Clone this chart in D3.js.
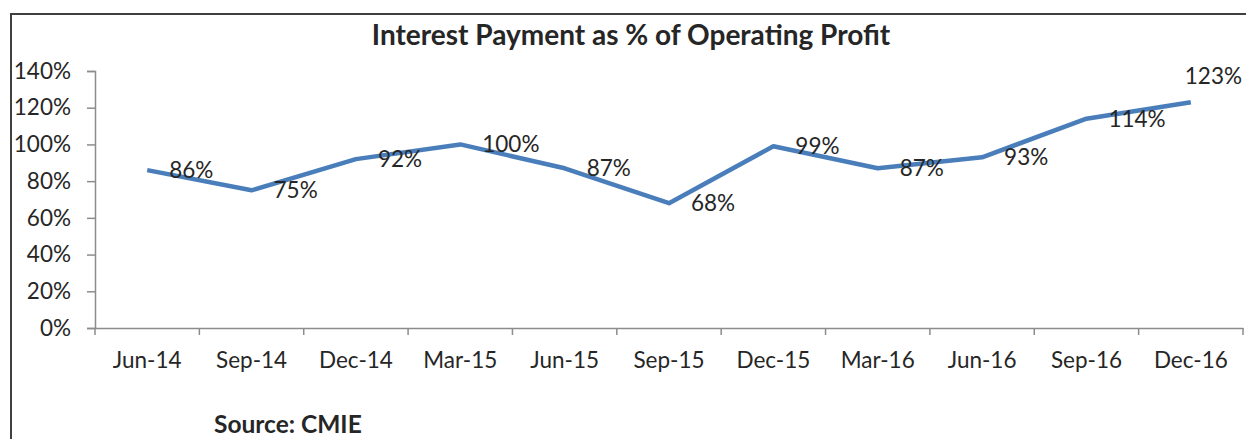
<!DOCTYPE html>
<html lang="en">
    <head>
        <meta charset="UTF-8" />
        <title>Interest Payment as % of Operating Profit</title>
        <style>
            body { margin: 0; background: #fff; }
            svg { display: block; font-family: Lato, "Noto Sans", sans-serif; }
        </style>
    </head>
    <body>
        <script src="https://cdn.jsdelivr.net/npm/d3@7"></script>
        <div id="app"></div>
        <script>
        // DATA
            const quarters = ["Jun-14", "Sep-14", "Dec-14", "Mar-15", "Jun-15", "Sep-15",
                              "Dec-15", "Mar-16", "Jun-16", "Sep-16", "Dec-16"];
            const interestPct = [86, 75, 92, 100, 87, 68, 99, 87, 93, 114, 123];
            const yTicks = [0, 20, 40, 60, 80, 100, 120, 140];

            const w = 1246;
            const h = 439;
            const padLeft = 95, padRight = 1243, padTop = 71, padBottom = 328;
            const textColor = "#262626";
            const axisColor = "#8c8c8c";

            const svg = d3.select("#app")
                .append("svg")
                .attr("width", w)
                .attr("height", h);

        // FRAME
            svg.append("path")
                .attr("d", "M11," + (h + 2) + "V14H" + (w + 2))
                .attr("fill", "none")
                .attr("stroke", "#404040")
                .attr("stroke-width", 2);

        // TITLE
            svg.append("text")
                .attr("x", 631)
                .attr("y", 45)
                .attr("text-anchor", "middle")
                .attr("font-size", 28)
                .attr("font-weight", "bold")
                .attr("fill", textColor)
                .text("Interest Payment as % of Operating Profit");

        // SCALES
            const xScale = d3.scaleBand()
                .domain(quarters)
                .range([padLeft, padRight]);

            const yScale = d3.scaleLinear()
                .domain([0, 140])
                .range([padBottom, padTop]);

        // AXES
            const yAxis = d3.axisLeft(yScale)
                .tickValues(yTicks)
                .tickSize(8)
                .tickPadding(16)
                .tickFormat(d => d + "%");

            const gy = svg.append("g")
                .attr("transform", "translate(" + padLeft + ",0)")
                .call(yAxis);

            const xAxis = d3.axisBottom(xScale)
                .tickSize(0)
                .tickPadding(24);

            const gx = svg.append("g")
                .attr("transform", "translate(0," + padBottom + ")")
                .call(xAxis);

            // ticks sit on category boundaries, not centres
            const bounds = quarters.map(q => xScale(q)).concat([xScale.range()[1]]);
            gx.selectAll(".bound")
                .data(bounds)
                .enter()
                .append("line")
                .attr("class", "bound")
                .attr("x1", d => d)
                .attr("x2", d => d)
                .attr("y1", 0)
                .attr("y2", 7);

            [gx, gy].forEach(g => {
                g.select(".domain").attr("stroke", axisColor).attr("stroke-width", 1.5);
                g.selectAll("line").attr("stroke", axisColor).attr("stroke-width", 1.5);
                g.selectAll("text")
                    .attr("font-size", 22.5)
                    .attr("font-family", "Lato, 'Noto Sans', sans-serif")
                    .attr("fill", textColor);
            });

        // LINE
            const cx = (d, i) => xScale(quarters[i]) + xScale.bandwidth() / 2;

            const line = d3.line()
                .x(cx)
                .y(d => yScale(d));

            svg.append("path")
                .datum(interestPct)
                .attr("d", line)
                .attr("fill", "none")
                .attr("stroke", "#4a7ebb")
                .attr("stroke-width", 4.5)
                .attr("stroke-linejoin", "round");

        // LABELS
            const last = interestPct.length - 1;
            svg.selectAll(".lbl")
                .data(interestPct)
                .enter()
                .append("text")
                .attr("class", "lbl")
                .attr("x", (d, i) => cx(d, i) + (i === last ? -6 : 22))
                .attr("y", (d, i) => yScale(d) + (i === last ? -26 : 0))
                .attr("dy", "0.35em")
                .attr("font-size", 22.5)
                .attr("fill", textColor)
                .text(d => d + "%");

        // SOURCE
            svg.append("text")
                .attr("x", 214)
                .attr("y", 433)
                .attr("font-size", 24.5)
                .attr("font-weight", "bold")
                .attr("fill", textColor)
                .text("Source: CMIE");
        </script>
    </body>
</html>
